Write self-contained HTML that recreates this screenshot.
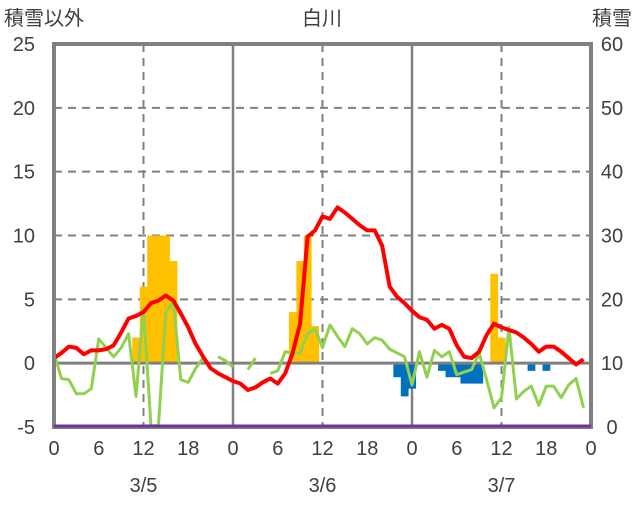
<!DOCTYPE html>
<html><head><meta charset="utf-8"><style>
body{margin:0;background:#fff;width:636px;height:501px;overflow:hidden}
svg text{font-family:"Liberation Sans","Noto Sans CJK JP",sans-serif;fill:#404040}
</style></head><body>
<svg id="c" width="636" height="501"></svg>
<script>
const hours=[...Array(72).keys()];
const redVals=[0.4,0.8,1.3,1.2,0.7,1.0,1.0,1.1,1.4,2.4,3.5,3.7,4.0,4.7,4.9,5.3,4.9,3.9,2.8,1.5,0.5,-0.4,-0.8,-1.1,
-1.4,-1.6,-2.1,-1.9,-1.5,-1.2,-1.6,-0.8,0.8,3.1,9.9,10.4,11.5,11.3,12.2,11.8,11.3,10.8,10.4,10.4,9.2,6.0,5.2,4.7,
4.1,3.6,3.4,2.7,3.0,2.7,1.4,0.5,0.4,0.9,2.2,3.1,2.8,2.6,2.4,2.0,1.5,0.9,1.3,1.3,0.9,0.4,-0.1,0.3];
const greenVals=[0.8,-1.2,-1.3,-2.4,-2.4,-2.0,1.9,1.2,0.5,1.2,2.3,-2.6,4.3,-4.9,-4.9,4.0,4.8,-1.3,-1.5,-0.4,0.4,null,0.5,0.2,
-0.3,null,-0.5,0.4,null,-0.8,-0.6,0.9,0.8,0.8,2.3,2.7,1.2,3.0,2.1,1.3,2.7,2.3,1.5,2.0,1.8,1.1,0.8,0.5,
-1.7,0.9,-1.1,1.0,0.5,0.9,-0.9,-0.7,-0.5,0.8,-1.3,-3.5,-2.7,2.8,-2.8,-2.2,-1.8,-3.3,-1.8,-1.8,-2.7,-1.7,-1.2,-3.5];
const barHours=[11,12,13,14,15,16,32,33,34,35,46,47,48,52,53,54,55,56,57,59,60,64,66];
const barVals=[2,6,10,10,10,8,4,8,10,2.9,-1.1,-2.6,-2,-0.6,-1.1,-1.1,-1.6,-1.6,-1.6,7,2,-0.6,-0.6];
const leftTicks=[-5,0,5,10,15,20,25];
const rightTicks=[0,10,20,30,40,50,60];
const xTickLabels=["0","6","12","18","0","6","12","18","0","6","12","18","0"];
const dateLabels=["3/5","3/6","3/7"];

const X0=54,X1=591,Y0=427,Y1=44;
const xs=h=>X0+(X1-X0)*h/72;
const ys=v=>Y0-(Y0-Y1)*(v+5)/30;
const yr=v=>Y0-(Y0-Y1)*v/60;
const svg=document.getElementById('c');
const NS='http://www.w3.org/2000/svg';
function mk(tag,attrs,parent){const e=document.createElementNS(NS,tag);for(const k in attrs)e.setAttribute(k,attrs[k]);(parent||svg).appendChild(e);return e;}

[5,10,15,20].forEach(v=>{const l=mk('line',{x1:X0,x2:X1,y1:ys(v),y2:ys(v),stroke:'#808080','stroke-width':2,'stroke-dasharray':'8,6'});

});
[12,36,60].forEach(h=>{const l=mk('line',{x1:xs(h),x2:xs(h),y1:Y1,y2:Y0,stroke:'#808080','stroke-width':2,'stroke-dasharray':'8,6'});

});
[24,48].forEach(h=>{const l=mk('line',{x1:xs(h),x2:xs(h),y1:Y1,y2:Y0,stroke:'#808080','stroke-width':2.5});

});

barHours.forEach((h,i)=>{const v=barVals[i];const x=xs(h-0.5),w=xs(h+0.5)-x;
const y=Math.min(ys(v),ys(0)),hh=Math.abs(ys(v)-ys(0));
const r=mk('rect',{x:x,y:y,width:w+0.3,height:hh,fill:v>0?'#FFC000':'#0070C0'});

});

const z=mk('line',{x1:X0,x2:X1,y1:ys(0),y2:ys(0),stroke:'#808080','stroke-width':3});



let segs=[],cur=[];
greenVals.forEach((v,h)=>{if(v===null){if(cur.length)segs.push(cur);cur=[];}else cur.push(xs(h)+','+ys(v));});
if(cur.length)segs.push(cur);
segs.forEach(s=>{const p=mk('polyline',{points:s.join(' '),fill:'none',stroke:'#92D050','stroke-width':3,'stroke-linejoin':'round'});

});

const rp=mk('polyline',{points:redVals.map((v,h)=>xs(h)+','+ys(v)).join(' '),fill:'none',stroke:'#FF0000','stroke-width':4,'stroke-linejoin':'round'});



const fr=mk('rect',{x:X0,y:Y1,width:X1-X0,height:Y0-Y1,fill:'none',stroke:'#808080','stroke-width':4});



const pl=mk('line',{x1:X0,x2:X1,y1:yr(0)-1,y2:yr(0)-1,stroke:'#7030A0','stroke-width':3});



leftTicks.forEach(v=>{const t=mk('text',{x:35,y:ys(v)+7,'font-size':20,'text-anchor':'end'});t.textContent=v;

});
rightTicks.forEach(v=>{const t=mk('text',{x:612,y:yr(v)+7,'font-size':20,'text-anchor':'middle'});t.textContent=v;

});
xTickLabels.forEach((s,i)=>{const t=mk('text',{x:xs(i*6),y:455,'font-size':20,'text-anchor':'middle'});t.textContent=s;

});
dateLabels.forEach((s,i)=>{const t=mk('text',{x:xs(12+24*i),y:492,'font-size':20,'text-anchor':'middle'});t.textContent=s;

});
[['積雪以外',4,'start','left-axis-title'],['白川',322,'middle','chart-title'],['積雪',632,'end','right-axis-title']].forEach(a=>{
const t=mk('text',{x:a[1],y:25,'font-size':20,'text-anchor':a[2]});t.textContent=a[0];

});
</script>
</body></html>
